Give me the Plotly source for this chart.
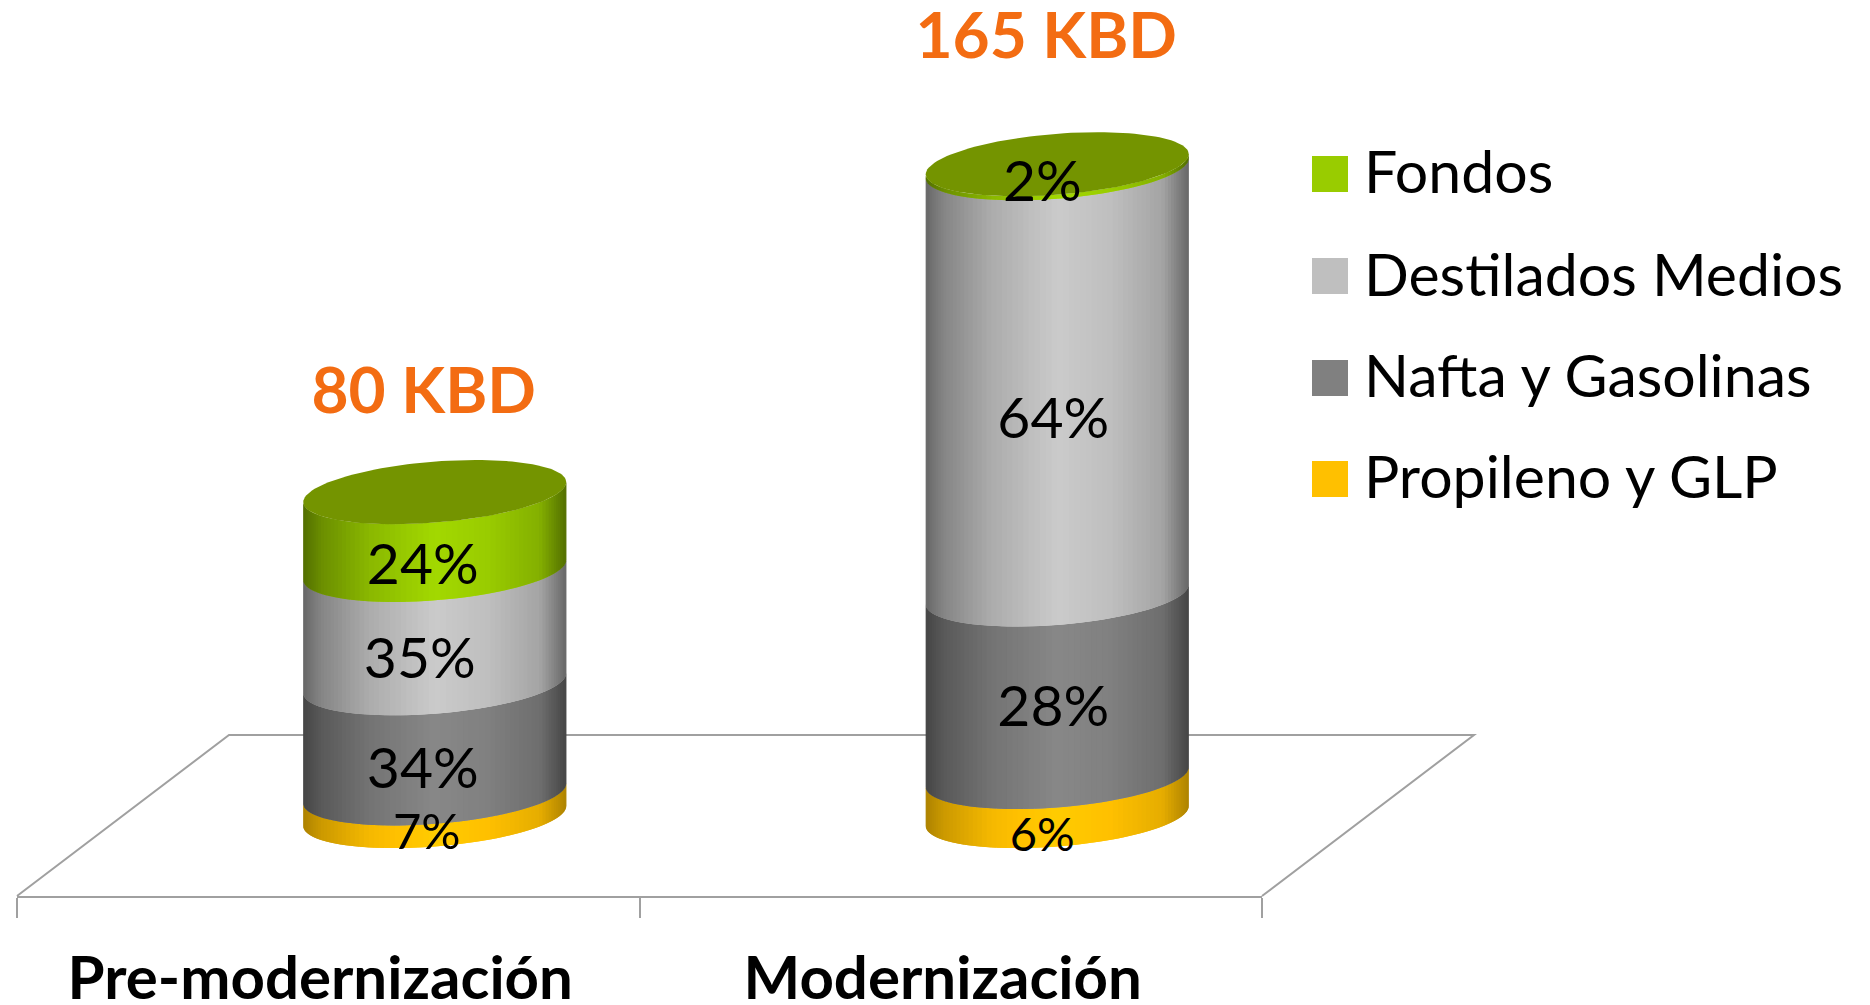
import math
import plotly.graph_objects as go

# ---- data ----
categories = ["Pre-modernización", "Modernización"]
total_labels = ["80 KBD", "165 KBD"]
drawn_height_kbd = [82, 165]
series_names = ["Propileno y GLP", "Nafta y Gasolinas", "Destilados Medios", "Fondos"]
series_colors = ["#FFC000", "#808080", "#BFBFBF", "#99CC00"]
share_pre = [7, 34, 35, 24]
share_mod = [6, 28, 64, 2]
drawn_share_pre = [7, 34, 35, 24]
drawn_share_mod = [6, 28, 65.4, 0.6]
label_size_pre = [49, 57, 57, 57]
label_size_mod = [47, 57, 57, 57]
label_nudge_pre = [(-8, 2), (-12, 5), (-15, 7), (-12, 8)]
label_nudge_mod = [(-15, 12), (-4, -4), (-4, 12), (-15, -10)]
total_gap_kbd = [24.1, 30.9]

# ---- layout constants ----
W, H = 1870, 1005
LEFT, RIGHT, FRONT = 17, 1262, 896
BACK_Y, BACK_DX = 735, 212
PX_X = (RIGHT - LEFT) / 2
PX_Y = 3.95
ZERO_PX = 816
DEPTH = 106.5 / PX_X
HALF = 131.5 / PX_X
TILT = 10 / PX_Y
BULGE = 30.5 / PX_Y
N = 72
FONT = "Lato, Carlito, Calibri, sans-serif"
STOPS = [(0, .54), (.07, .70), (.25, .90), (.5, 1.06), (.7, 1.0), (.9, .86), (1, .54)]
YELLOW_STOPS = [(0, .68), (.07, .80), (.25, .96), (.5, 1.06), (.7, 1.0), (.9, .90), (1, .68)]


def shade(hex_color, f, stops):
    k = stops[-1][1]
    for (a, ka), (b, kb) in zip(stops, stops[1:]):
        if a <= f <= b:
            k = ka + (kb - ka) * (f - a) / (b - a)
            break
    rgb = [int(hex_color[i:i + 2], 16) for i in (1, 3, 5)]
    return "rgb(%d,%d,%d)" % tuple(min(255, round(v * k)) for v in rgb)


def rim(c_val, base):
    return base + TILT * c_val - BULGE * math.sqrt(max(0, 1 - c_val ** 2))


fig = go.Figure()
cs = [-math.cos(math.pi * i / N) for i in range(N + 1)]

for cat, (shares, height) in enumerate(zip([drawn_share_pre, drawn_share_mod], drawn_height_kbd)):
    cx = cat + DEPTH
    bottom = 0
    for name, color, share in zip(series_names, series_colors, shares):
        top = bottom + height * share / 100
        stops = YELLOW_STOPS if color == "#FFC000" else STOPS
        for i in range(N):
            j = min(i + 2, N)
            seg = cs[i:j + 1]
            xs = [cx + HALF * c for c in seg]
            mid_f = ((cs[i] + cs[i + 1]) / 2 + 1) / 2
            fig.add_trace(go.Scatter(
                x=xs + xs[::-1],
                y=[rim(c, bottom) for c in seg] + [rim(c, top) for c in seg[::-1]],
                mode="lines", fill="toself", line=dict(width=0),
                fillcolor=shade(color, mid_f, stops),
                hoverinfo="skip", showlegend=False, name=name))
        bottom = top
    # top cap
    angles = [2 * math.pi * i / 120 for i in range(121)]
    fig.add_trace(go.Scatter(
        x=[cx + HALF * math.cos(t) for t in angles],
        y=[height + TILT * math.cos(t) + BULGE * math.sin(t) for t in angles],
        mode="lines", fill="toself", line=dict(width=0), fillcolor="#749400",
        hoverinfo="skip", showlegend=False, name="Fondos"))

# percentage labels
for cat, (shares, drawn, height, sizes, nudges) in enumerate(zip(
        [share_pre, share_mod], [drawn_share_pre, drawn_share_mod], drawn_height_kbd,
        [label_size_pre, label_size_mod], [label_nudge_pre, label_nudge_mod])):
    bottom = 0
    xs, ys, txt = [], [], []
    for share, d, (nx, ny) in zip(shares, drawn, nudges):
        seg = height * d / 100
        xs.append(cat + DEPTH + nx / PX_X)
        ys.append(bottom + seg / 2 - BULGE - ny / PX_Y)
        txt.append(f"{share}%")
        bottom += seg
    fig.add_trace(go.Scatter(
        x=xs, y=ys, text=txt, mode="text", textposition="middle center",
        textfont=dict(family=FONT, size=sizes, color="#000000"),
        cliponaxis=False, hoverinfo="skip", showlegend=False))

# totals above the cylinders
fig.add_trace(go.Scatter(
    x=[cat + DEPTH - 11 / PX_X for cat in range(2)],
    y=[h + g for h, g in zip(drawn_height_kbd, total_gap_kbd)],
    text=[f"<b>{t}</b>" for t in total_labels],
    mode="text", textposition="middle center",
    textfont=dict(family=FONT, size=64, color="#F36C12"),
    cliponaxis=False, hoverinfo="skip", showlegend=False))

# floor of the 3-D plot (behind the traces)
shapes, annotations = [], []
fx = lambda px: px / W
fy = lambda px: 1 - px / H
shapes.append(dict(
    type="path", xref="paper", yref="paper", layer="below",
    path=f"M{fx(LEFT)},{fy(FRONT)} L{fx(LEFT + BACK_DX)},{fy(BACK_Y)} "
         f"L{fx(RIGHT + BACK_DX)},{fy(BACK_Y)} L{fx(RIGHT)},{fy(FRONT)}",
    line=dict(color="#A0A0A0", width=2)))

# legend, drawn as swatches + real text
legend_y = [174, 276, 378, 479]
for name, color, yc in zip(series_names[::-1], series_colors[::-1], legend_y):
    shapes.append(dict(type="rect", xref="paper", yref="paper",
                       x0=fx(1312), x1=fx(1348), y0=fy(yc + 18), y1=fy(yc - 18),
                       fillcolor=color, line=dict(width=0)))
    annotations.append(dict(xref="paper", yref="paper", x=fx(1362), y=fy(yc - 3),
                            text=name, showarrow=False, xanchor="left", yanchor="middle",
                            font=dict(family=FONT, size=59, color="#000000")))

fig.update_layout(
    width=W, height=H, autosize=False,
    margin=dict(l=0, r=0, t=0, b=0, pad=0),
    paper_bgcolor="#FFFFFF", plot_bgcolor="rgba(0,0,0,0)",
    showlegend=False, shapes=shapes, annotations=annotations,
    xaxis=dict(domain=[LEFT / W, RIGHT / W], range=[-0.5, 1.5], showgrid=False, zeroline=False,
               automargin=False,
               showline=True, linecolor="#A0A0A0", linewidth=2,
               tickmode="array", tickvals=[0, 1],
               ticktext=[f"<b>{c}</b>" for c in categories],
               ticks="", ticklabelstandoff=29, ticklabelshift=-8,
               tickfont=dict(family=FONT, size=60, color="#000000"),
               minor=dict(tickmode="array", tickvals=[-0.5, 0.5, 1.5], ticks="outside",
                          ticklen=20, tickwidth=2, tickcolor="#A0A0A0", showgrid=False)),
    yaxis=dict(domain=[1 - FRONT / H, 1], automargin=False,
               range=[(ZERO_PX - FRONT) / PX_Y, ZERO_PX / PX_Y],
               visible=False),
)
fig.write_html("out.html", config=dict(displayModeBar=False),
               post_script="document.body.style.margin='0';document.body.style.overflow='hidden';")
